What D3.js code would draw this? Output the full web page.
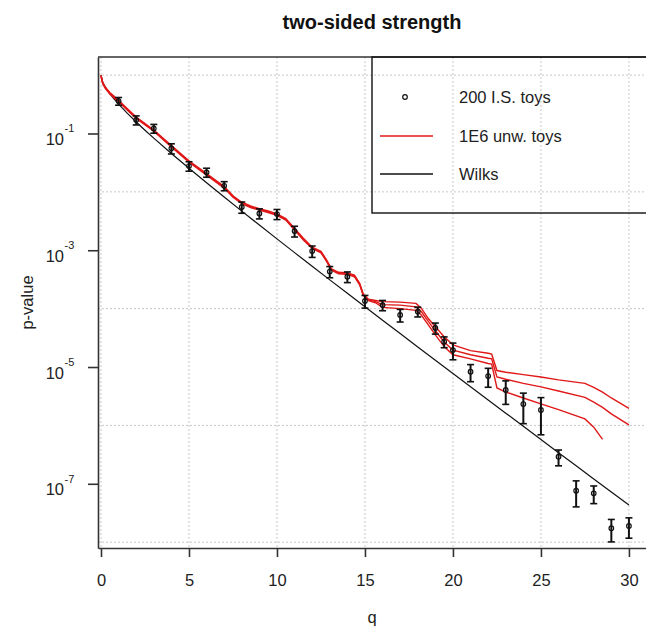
<!DOCTYPE html>
<html>
<head>
<meta charset="utf-8">
<script src="https://cdn.jsdelivr.net/npm/d3@7"></script>
<style>
  body { margin: 0; background: #fff; }
  svg { font-family: "Liberation Sans", Arial, sans-serif; }
  .grid line { stroke: #c8c8c8; stroke-width: 1; stroke-dasharray: 2,2; }
  .axis path, .axis line { stroke: #333; stroke-width: 1.6; }
  .axis text { font-size: 16.5px; fill: #222; }
</style>
</head>
<body>
<svg id="chart" width="646" height="628"></svg>
<script>
// importance-sampled toys (points with error bars)
var isQ = [1, 2, 3, 4, 5, 6, 7, 8, 9, 10, 11, 12, 13, 14, 15, 16, 17, 18, 19, 19.5,
           20, 21, 22, 23, 24, 25, 26, 27, 28, 29, 30];
var isP = [0.359, 0.170, 0.122, 0.0556, 0.0277, 0.0216, 0.0127, 0.0055, 0.00428, 0.00417,
           0.00213, 0.000968, 0.000432, 0.000352, 0.000135, 0.000115, 7.8e-5, 8.9e-5, 4.66e-5, 2.71e-5,
           1.95e-5, 8.3e-6, 7.0e-6, 4.04e-6, 2.32e-6, 1.84e-6, 2.91e-7, 7.62e-8, 6.87e-8, 1.73e-8, 1.89e-8];
var isErr = [0.054, 0.030, 0.021, 0.011, 0.0051, 0.0038, 0.00225, 0.0012, 0.00084, 0.00082,
             0.000445, 0.000214, 9.4e-5, 7.3e-5, 3.3e-5, 2.3e-5, 1.9e-5, 1.7e-5, 1.0e-5, 5.7e-6,
             6.2e-6, 2.7e-6, 2.5e-6, 1.75e-6, 1.25e-6, 1.15e-6, 8.8e-8, 3.6e-8, 2.3e-8, 7.2e-9, 7.2e-9];

// unweighted toys, three curves
var unwQ = [0, 0.1, 0.25, 0.5, 1, 1.5, 2, 3, 4, 5, 6, 7, 7.5, 8, 8.5, 9, 9.5, 10, 10.5, 11,
            11.5, 12, 12.5, 12.8, 13.1, 13.5, 14, 14.4, 14.7, 14.9, 15.2, 15.6, 16, 17, 17.9, 18.2,
            18.6, 19, 19.5, 20, 21, 22, 22.2, 22.5, 23, 24, 25, 26, 27.5, 28, 28.5, 29, 30];
var unwTop = [1.0, 0.745, 0.62, 0.505, 0.37, 0.265, 0.192, 0.115, 0.062, 0.0341, 0.0206, 0.0124, 0.00857, 0.00665, 0.00573, 0.00516, 0.00471, 0.00419, 0.00349, 0.00236,
              0.0016, 0.00113, 0.000961, 0.000696, 0.000482, 0.000419, 0.00041, 0.000374, 0.000271, 0.000179, 0.000145, 0.000138, 0.000132, 0.000129, 0.000123, 0.000102,
              6.76e-5, 4.9e-5, 3.31e-5, 2.4e-5, 1.91e-5, 1.72e-5, 1.66e-5, 8.7e-6, 8.13e-6, 7.41e-6, 6.76e-6, 6.03e-6, 5.25e-6, 4.47e-6, 3.72e-6, 2.95e-6, 1.95e-6];
var unwMid = [0.98, 0.724, 0.603, 0.49, 0.359, 0.257, 0.186, 0.112, 0.0603, 0.0331, 0.02, 0.012, 0.00832, 0.00646, 0.00556, 0.00501, 0.00457, 0.00407, 0.00339, 0.00229,
              0.00155, 0.0011, 0.000933, 0.000676, 0.000468, 0.000407, 0.000398, 0.000363, 0.000263, 0.000174, 0.000141, 0.000132, 0.000117, 0.000115, 0.000107, 8.91e-5,
              6.03e-5, 4.17e-5, 2.69e-5, 1.95e-5, 1.62e-5, 1.41e-5, 1.38e-5, 6.76e-6, 6.17e-6, 5.25e-6, 4.57e-6, 3.89e-6, 3.02e-6, 2.51e-6, 2.04e-6, 1.58e-6, 1.02e-6];
var unwLow = [0.96, 0.705, 0.585, 0.475, 0.348, 0.249, 0.181, 0.109, 0.0585, 0.0321, 0.0194, 0.0116, 0.00807, 0.00627, 0.00539, 0.00486, 0.00443, 0.00395, 0.00329, 0.00222,
              0.0015, 0.00107, 0.000905, 0.000656, 0.000454, 0.000395, 0.000386, 0.000352, 0.000255, 0.000169, 0.000137, 0.000126, 0.000105, 0.0001, 9.33e-5, 7.76e-5,
              5.25e-5, 3.55e-5, 2.24e-5, 1.62e-5, 1.38e-5, 1.15e-5, 1.12e-5, 4.37e-6, 3.72e-6, 2.95e-6, 2.34e-6, 1.86e-6, 1.29e-6, 9.33e-7, 5.75e-7, null, null];

// Wilks asymptotic curve
var wilksQ = [0, 0.1, 0.25, 0.5, 0.75, 1, 1.5, 2, 2.5, 3, 4, 5, 6, 7, 8, 9, 10, 11, 12, 13, 14, 15,
              16, 17, 18, 19, 20, 21, 22, 23, 24, 25, 26, 27, 28, 29, 30];
var wilksP = [1, 0.752, 0.617, 0.4795, 0.3865, 0.3173, 0.2207, 0.1573, 0.1138, 0.0833, 0.0455, 0.02535, 0.01431, 0.00815, 0.00468, 0.0027, 0.001565, 0.000911, 0.000532, 0.000311, 0.000183, 0.0001075,
              6.33e-5, 3.74e-5, 2.21e-5, 1.31e-5, 7.74e-6, 4.59e-6, 2.73e-6, 1.62e-6, 9.63e-7, 5.73e-7, 3.41e-7, 2.03e-7, 1.21e-7, 7.24e-8, 4.32e-8];

var xTicks = [0, 5, 10, 15, 20, 25, 30];
var yTickExp = [-1, -3, -5, -7];
var yGridExp = [0, -2, -4, -6, -8];
var legendLabels = ["200 I.S. toys", "1E6 unw. toys", "Wilks"];

var plotLeft = 98, plotRight = 646, plotTop = 57, plotBottom = 548;
var red = "#e01818";

var svg = d3.select("#chart");

var x = d3.scaleLinear().domain([-0.17, 30.97]).range([plotLeft, plotRight]);
var y = d3.scaleLog().domain([Math.pow(10, -8.1), Math.pow(10, 0.31)]).range([plotBottom, plotTop]);

// grid
var grid = svg.append("g").attr("class", "grid");
grid.selectAll(".vx").data(xTicks).enter().append("line")
    .attr("x1", d => x(d)).attr("x2", d => x(d))
    .attr("y1", plotTop).attr("y2", plotBottom);
grid.selectAll(".hy").data(yGridExp).enter().append("line")
    .attr("x1", plotLeft).attr("x2", plotRight)
    .attr("y1", d => y(Math.pow(10, d))).attr("y2", d => y(Math.pow(10, d)));

// wilks
var wilks = wilksQ.map((q, i) => [q, wilksP[i]]);
svg.append("path")
    .datum(wilks)
    .attr("fill", "none")
    .attr("stroke", "#111")
    .attr("stroke-width", 1.2)
    .attr("d", d3.line().x(d => x(d[0])).y(d => y(d[1])));

// unweighted toys
var line = d3.line()
    .defined(d => d[1] != null)
    .x(d => x(d[0])).y(d => y(d[1]));
[unwTop, unwMid, unwLow].forEach(function(vals) {
    svg.append("path")
        .datum(unwQ.map((q, i) => [q, vals[i]]))
        .attr("fill", "none")
        .attr("stroke", red)
        .attr("stroke-width", 1.4)
        .attr("d", line);
});

// I.S. toys with error bars
var pts = isQ.map((q, i) => ({ q: q, p: isP[i], e: isErr[i] }));
var eb = svg.append("g").selectAll("g").data(pts).enter().append("g");
eb.append("line")
    .attr("x1", d => x(d.q)).attr("x2", d => x(d.q))
    .attr("y1", d => y(d.p - d.e)).attr("y2", d => y(d.p + d.e))
    .attr("stroke", "#111").attr("stroke-width", 2);
eb.append("line")
    .attr("x1", d => x(d.q) - 3.5).attr("x2", d => x(d.q) + 3.5)
    .attr("y1", d => y(d.p - d.e)).attr("y2", d => y(d.p - d.e))
    .attr("stroke", "#111").attr("stroke-width", 1.6);
eb.append("line")
    .attr("x1", d => x(d.q) - 3.5).attr("x2", d => x(d.q) + 3.5)
    .attr("y1", d => y(d.p + d.e)).attr("y2", d => y(d.p + d.e))
    .attr("stroke", "#111").attr("stroke-width", 1.6);
eb.append("circle")
    .attr("cx", d => x(d.q)).attr("cy", d => y(d.p))
    .attr("r", 2.3)
    .attr("fill", "none").attr("stroke", "#111").attr("stroke-width", 1.2);

// axes
var xAxis = svg.append("g")
    .attr("class", "axis")
    .attr("transform", "translate(0," + plotBottom + ")")
    .call(d3.axisBottom(x).tickValues(xTicks).tickSize(9).tickSizeOuter(0));
xAxis.selectAll("text").attr("y", 38).attr("dy", null);

svg.append("g")
    .attr("class", "axis")
    .attr("transform", "translate(" + plotLeft + ",0)")
    .call(d3.axisLeft(y).tickValues(yTickExp.map(e => Math.pow(10, e))).tickSize(10).tickSizeOuter(0).tickFormat(""));

yTickExp.forEach(function(e) {
    var ty = y(Math.pow(10, e));
    svg.append("text")
        .attr("x", 64).attr("y", ty + 11.7)
        .attr("text-anchor", "end")
        .attr("font-size", "16.5px").attr("fill", "#222")
        .text("10");
    svg.append("text")
        .attr("x", 64.5).attr("y", ty - 1)
        .attr("font-size", "11px").attr("fill", "#222")
        .text(String(e));
});

// top border
svg.append("line")
    .attr("x1", plotLeft).attr("x2", plotRight)
    .attr("y1", plotTop).attr("y2", plotTop)
    .attr("stroke", "#333").attr("stroke-width", 1.6);

// titles
svg.append("text")
    .attr("x", 372).attr("y", 29)
    .attr("text-anchor", "middle")
    .attr("font-size", "20px").attr("font-weight", "bold").attr("fill", "#111")
    .text("two-sided strength");

svg.append("text")
    .attr("x", 372).attr("y", 623)
    .attr("text-anchor", "middle")
    .attr("font-size", "16.5px").attr("fill", "#222")
    .text("q");

svg.append("text")
    .attr("transform", "translate(33," + ((plotTop + plotBottom) / 2) + ") rotate(-90)")
    .attr("text-anchor", "middle")
    .attr("font-size", "16.5px").attr("fill", "#222")
    .text("p-value");

// legend
var lg = svg.append("g");
lg.append("rect")
    .attr("x", 372).attr("y", plotTop)
    .attr("width", plotRight - 372 + 2).attr("height", 156)
    .attr("fill", "none").attr("stroke", "#111").attr("stroke-width", 1.4);
var rowY = [97, 136, 174];
lg.append("circle")
    .attr("cx", 405).attr("cy", rowY[0]).attr("r", 2.3)
    .attr("fill", "none").attr("stroke", "#111").attr("stroke-width", 1.2);
lg.append("line")
    .attr("x1", 380).attr("x2", 433).attr("y1", rowY[1]).attr("y2", rowY[1])
    .attr("stroke", red).attr("stroke-width", 1.4);
lg.append("line")
    .attr("x1", 380).attr("x2", 433).attr("y1", rowY[2]).attr("y2", rowY[2])
    .attr("stroke", "#111").attr("stroke-width", 1.4);
lg.selectAll("text.lab").data(legendLabels).enter().append("text")
    .attr("x", 459).attr("y", (d, i) => rowY[i] + 6)
    .attr("font-size", "16.5px").attr("fill", "#222")
    .text(d => d);
</script>
</body>
</html>
